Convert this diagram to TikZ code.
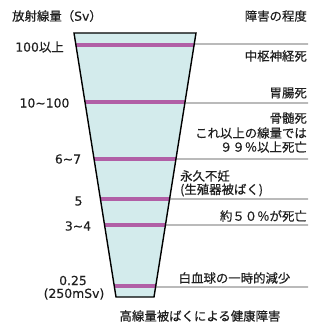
\documentclass[tikz,border=0pt]{standalone}
\usepackage{fontspec}
\setmainfont{Noto Sans CJK JP}[FakeBold=0.45]
\newfontfamily\latinf{DejaVu Sans}[FakeBold=0.3]
\usetikzlibrary{calc}
\definecolor{fillc}{HTML}{D3EBEC}
\definecolor{bandc}{HTML}{B15FA6}
\definecolor{linec}{HTML}{3C3C3C}
\begin{document}
\begin{tikzpicture}[x=1pt,y=-1pt,
  txt/.style={inner sep=0pt,font=\fontsize{12.4}{14.5}\selectfont,text=black!88},
  num/.style={txt,font=\fontsize{12.4}{14.5}\selectfont\latinf},
  band/.style={bandc,line width=4.5pt},
  lvl/.style={linec,line width=0.9pt}]
\useasboundingbox (0,0) rectangle (322,326);
\coordinate (tl) at (74,33);
\coordinate (tr) at (196,33);
\coordinate (bl) at (116,297);
\coordinate (br) at (154,297);
\fill[fillc] (tl) -- (tr) -- (br) -- (bl) -- cycle;
\begin{scope}
\clip (tl) -- (tr) -- (br) -- (bl) -- cycle;
\foreach \y/\n in {45/a,102/b,159/c,199/d,225/e,286/f}{
  \pgfmathsetmacro{\t}{(\y-33)/264}
  \coordinate (L\n) at ($(tl)!\t!(bl)$);
  \coordinate (R\n) at ($(tr)!\t!(br)$);
  \draw[band] ([xshift=-3pt]L\n) -- ([xshift=3pt]R\n);
}
\end{scope}
\foreach \y/\n in {44/a,103/b,159/c,199/d,225/e,287/f}{
  \pgfmathsetmacro{\t}{(\y-33)/264}
  \coordinate (S\n) at ($(tr)!\t!(br)$);
  \coordinate (E\n) at (308,\y);
  \draw[lvl] (S\n) -- (E\n);
}
\draw[black,line width=1.4pt,line join=miter] (tl) -- (tr) -- (br) -- (bl) -- cycle;
% headers
\node[txt,anchor=west] (h1) at (12,16) {放射線量（{\latinf Sv}）};
\node[txt,anchor=east] (h2) at (307,16) {障害の程度};
% left labels
\node[num] (l1) at (39.5,47) {100\rmfamily 以上};
\node[num] (l2) at (44.5,103) {10\textasciitilde100};
\node[num] (l3) at (68,159) {6\textasciitilde7};
\node[num] (l4) at (78.5,201) {5};
\node[num] (l5) at (78,226) {3\textasciitilde4};
\node[num] (l6) at (73,280.5) {0.25};
\node[num] (l7) at (74,294) {(250mSv)};
% right labels
\node[txt,anchor=east] (r1) at (307,56) {中枢神経死};
\node[txt,anchor=east] (r2) at (307,93) {胃腸死};
\node[txt,anchor=east] (r3a) at (307,118) {骨髄死};
\node[txt,anchor=east] (r3b) at (307,133) {これ以上の線量では};
\node[txt,anchor=east] (r3c) at (307,147) {９９％以上死亡};
\node[txt,anchor=west] (r4a) at (180,176) {永久不妊};
\node[txt,anchor=west] (r4b) at (180,190) {(生殖器被ばく)};
\node[txt,anchor=east] (r5) at (307,216) {約５０％が死亡};
\node[txt] (r6) at (234.5,278) {白血球の一時的減少};
\node[txt] (ft) at (200,316) {高線量被ばくによる健康障害};
\end{tikzpicture}
\end{document}
